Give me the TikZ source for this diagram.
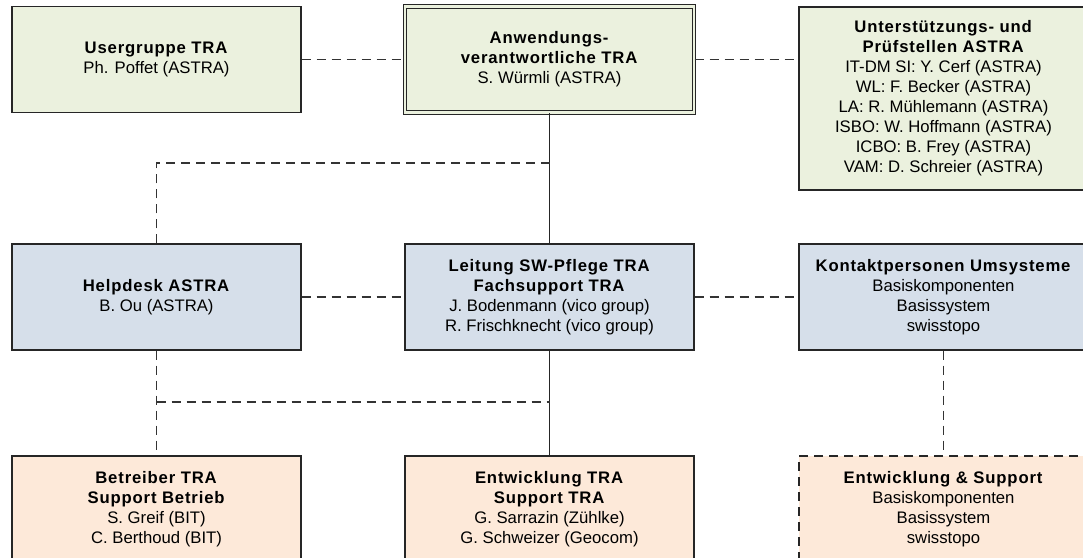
\documentclass[tikz,border=0pt]{standalone}
\usepackage{fontspec}
\setmainfont{Liberation Sans}
\usepackage{xcolor}
\usepackage{tikz}
\usetikzlibrary{positioning, calc}

\definecolor{gruen}{HTML}{EBF1DE}
\definecolor{blau}{HTML}{D6DFEA}
\definecolor{orange}{HTML}{FDE9D9}
\definecolor{rand}{HTML}{262626}
\definecolor{linie}{HTML}{333333}

\newcommand{\titel}[1]{\textbf{\addfontfeature{LetterSpace=5}#1}}

\begin{document}
\begin{tikzpicture}[x=1pt, y=-1pt,
		box/.style={draw=rand, line width=1.4pt, align=center, minimum width=289pt, minimum height=106pt, inner sep=0pt,
			font=\fontsize{16.7}{20}\selectfont},
		dline/.style={draw=linie, line width=1.5pt, dash pattern=on 9pt off 6pt},
		sline/.style={draw=rand, line width=1.5pt}]
		\useasboundingbox (0,0) rectangle (1083,557);

		% obere Reihe
		\node[box, fill=gruen] (Usergruppe) at (156.5,59.5) {\titel{Usergruppe TRA}\\
			Ph. Poffet (ASTRA)};
		\node[box, fill=gruen, double=gruen, double distance=2.5pt, line width=1.1pt] (Anwendung) at (549.5,59.5) {\titel{Anwendungs-}\\
			\titel{verantwortliche TRA}\\
			S. Würmli (ASTRA)};
		\node[box, fill=gruen, minimum height=183pt] (Pruefstellen) at (943.5,98.5) {\titel{Unterstützungs- und}\\
			\titel{Prüfstellen ASTRA}\\
			IT-DM SI: Y. Cerf (ASTRA)\\
			WL: F. Becker (ASTRA)\\
			LA: R. Mühlemann (ASTRA)\\
			ISBO: W. Hoffmann (ASTRA)\\
			ICBO: B. Frey (ASTRA)\\
			VAM: D. Schreier (ASTRA)};

		% mittlere Reihe
		\node[box, fill=blau] (Helpdesk) at (156.5,297) {\titel{Helpdesk ASTRA}\\
			B. Ou (ASTRA)};
		\node[box, fill=blau] (Leitung) at (549.5,297) {\titel{Leitung SW-Pflege TRA}\\
			\titel{Fachsupport TRA}\\
			J. Bodenmann (vico group)\\
			R. Frischknecht (vico group)};
		\node[box, fill=blau] (Kontakt) at (943.5,297) {\titel{Kontaktpersonen Umsysteme}\\
			Basiskomponenten\\
			Basissystem\\
			swisstopo};

		% untere Reihe
		\node[box, fill=orange] (Betreiber) at (156.5,509) {\titel{Betreiber TRA}\\
			\titel{Support Betrieb}\\
			S. Greif (BIT)\\
			C. Berthoud (BIT)};
		\node[box, fill=orange] (Entwicklung) at (549.5,509) {\titel{Entwicklung TRA}\\
			\titel{Support TRA}\\
			G. Sarrazin (Zühlke)\\
			G. Schweizer (Geocom)};
		\node[box, fill=orange, dash pattern=on 9pt off 6pt] (Support) at (943.5,509) {\titel{Entwicklung \& Support}\\
			Basiskomponenten\\
			Basissystem\\
			swisstopo};

		\coordinate (Abzweig oben) at (549.5,163);
		\coordinate (Abzweig unten) at (549.5,402);

		% Verbindungen
		\draw[dline] (Usergruppe) -- (Anwendung);
		\draw[dline] (Anwendung.east) -- (Anwendung.east -| Pruefstellen.west);
		\draw[sline] (Anwendung) -- (Leitung);
		\draw[dline] (Helpdesk) |- (Abzweig oben);
		\draw[dline] (Helpdesk) -- (Leitung);
		\draw[dline] (Leitung) -- (Kontakt);
		\draw[sline] (Leitung) -- (Entwicklung);
		\draw[dline] (Helpdesk) -- (Betreiber);
		\draw[dline] (Helpdesk.south |- Abzweig unten) -- (Abzweig unten);
		\draw[dline] (Kontakt) -- (Support);
	\end{tikzpicture}
\end{document}
